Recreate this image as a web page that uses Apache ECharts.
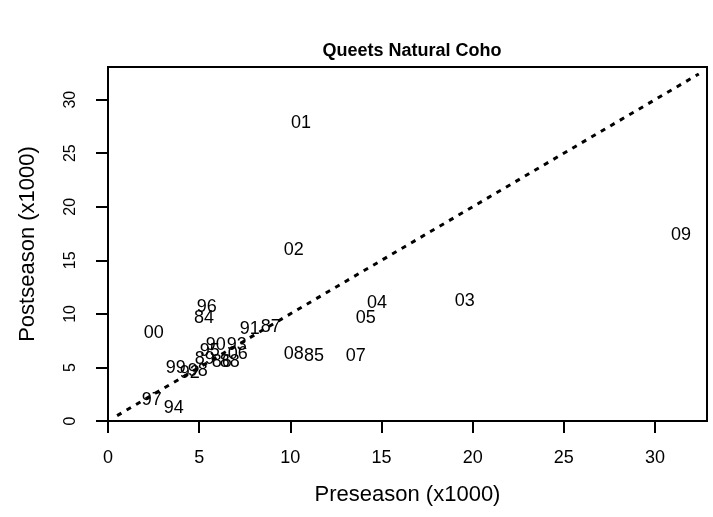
<!DOCTYPE html>
<html>
<head>
<meta charset="utf-8">
<script src="https://cdn.jsdelivr.net/npm/echarts@6/dist/echarts.min.js"></script>
<style>
html,body{margin:0;padding:0;background:#fff;}
#chart{width:713px;height:517px;}
</style>
</head>
<body>
<div id="chart"></div>
<script>
const years = ['84','85','86','87','88','89','90','91','92','93','94','95','96','97','98','99','00','01','02','03','04','05','06','07','08','09'];
const preseason = [5.26,11.30,6.24,8.93,6.68,5.31,5.91,7.78,4.48,7.06,3.61,5.58,5.42,2.40,4.92,3.72,2.51,10.58,10.19,19.57,14.75,14.14,7.12,13.59,10.19,31.43];
const postseason = [9.64,6.08,5.52,8.79,5.52,5.80,7.11,8.61,4.49,7.11,1.22,6.55,10.66,1.96,4.68,4.96,8.23,27.78,16.00,11.23,11.04,9.64,6.27,6.08,6.27,17.40];
const refLine = [[0.5,0.5],[32.4,32.4]];
const tickValues = [0,5,10,15,20,25,30];

const points = years.map((y,i)=>[preseason[i], postseason[i], y]);
const font = '"Liberation Sans", Arial, sans-serif';

const chart = echarts.init(document.getElementById('chart'));
chart.setOption({
  animation:false,
  backgroundColor:'#fff',
  title:{
    text:'Queets Natural Coho',
    left:407, top:37, textAlign:'center',
    textStyle:{fontFamily:font,fontSize:18,fontWeight:'bold',color:'#000'}
  },
  grid:{left:108,right:6,top:67,bottom:96,show:true,borderColor:'#000',borderWidth:2,backgroundColor:'transparent'},
  xAxis:{
    type:'value',min:0,max:32.85,interval:5,
    name:'Preseason (x1000)',nameLocation:'middle',nameGap:63,
    nameTextStyle:{fontFamily:font,fontSize:22,color:'#000'},
    axisLine:{show:false},
    splitLine:{show:false},
    axisTick:{show:true,length:12,inside:false,customValues:tickValues,lineStyle:{color:'#000',width:2}},
    axisLabel:{customValues:tickValues,margin:28,fontFamily:font,fontSize:18,color:'#000'}
  },
  yAxis:{
    type:'value',min:0,max:33.05,interval:5,
    name:'Postseason (x1000)',nameLocation:'middle',nameGap:69,
    nameTextStyle:{fontFamily:font,fontSize:22,color:'#000'},
    axisLine:{show:false},
    splitLine:{show:false},
    axisTick:{show:true,length:12,inside:false,customValues:tickValues,lineStyle:{color:'#000',width:2}},
    axisLabel:{customValues:tickValues,rotate:90,margin:29,fontFamily:font,fontSize:16,color:'#000'}
  },
  series:[
    {
      type:'line',
      data:refLine,
      symbol:'none',
      lineStyle:{color:'#000',width:3,type:[5,6]},
      z:1
    },
    {
      type:'scatter',
      data:points,
      symbolSize:0.01,
      itemStyle:{color:'#000',opacity:1},
      label:{
        show:true,position:'inside',
        formatter:p=>p.value[2],
        fontFamily:font,fontSize:18,color:'#000',opacity:1,
        textBorderWidth:0
      },
      emphasis:{disabled:true},
      z:3
    }
  ]
});
</script>
</body>
</html>
